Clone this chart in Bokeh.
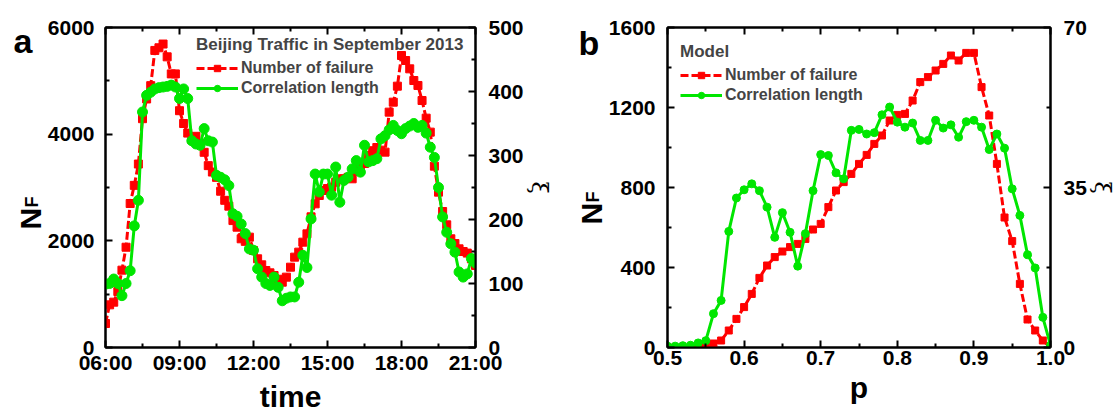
import math
from bokeh.plotting import figure
from bokeh.models import Range1d, LinearAxis, FixedTicker, Legend, LegendItem, Label
from bokeh.layouts import row
from bokeh.embed import file_html
from bokeh.resources import INLINE

FONT = "Liberation Sans"
RED = "#ff0000"
GREEN = "#00e600"

# ---------------- Panel a data (Beijing traffic) ----------------
TIMES = [
    "06:00", "06:10", "06:20", "06:30", "06:40", "06:50",
    "07:00", "07:10", "07:20", "07:30", "07:40", "07:50",
    "08:00", "08:10", "08:20", "08:30", "08:40", "08:50",
    "09:00", "09:10", "09:20", "09:30", "09:40", "09:50",
    "10:00", "10:10", "10:20", "10:30", "10:40", "10:50",
    "11:00", "11:10", "11:20", "11:30", "11:40", "11:50",
    "12:00", "12:10", "12:20", "12:30", "12:40", "12:50",
    "13:00", "13:10", "13:20", "13:30", "13:40", "13:50",
    "14:00", "14:10", "14:20", "14:30", "14:40", "14:50",
    "15:00", "15:10", "15:20", "15:30", "15:40", "15:50",
    "16:00", "16:10", "16:20", "16:30", "16:40", "16:50",
    "17:00", "17:10", "17:20", "17:30", "17:40", "17:50",
    "18:00", "18:10", "18:20", "18:30", "18:40", "18:50",
    "19:00", "19:10", "19:20", "19:30", "19:40", "19:50",
    "20:00", "20:10", "20:20", "20:30", "20:40", "20:50",
    "21:00",
]
NF_A = [
    450, 800, 850, 1050, 1450, 1880,
    2700, 3040, 3440, 4290, 4660, 4910,
    5570, 5620, 5690, 5450, 5130, 5130,
    4440, 4200, 4020, 3900, 3960, 3820,
    3660, 3410, 3290, 3190, 2930, 2760,
    2650, 2380, 2256, 2038, 1990, 2069,
    1819, 1663, 1550, 1444, 1400, 1350,
    1280, 1225, 1319, 1506, 1694, 1788,
    1975, 2131, 2450, 2694, 2850, 2944,
    2980, 3006, 3100, 3163, 3160, 3190,
    3163, 3300, 3381, 3450, 3600, 3690,
    3750, 3700, 3663, 4413, 4600, 4900,
    5475, 5381, 5225, 5006, 4913, 4631,
    4300, 4038, 3400, 2913, 2550, 2300,
    2038, 1950, 1850, 1800, 1770, 1663,
    1538,
]
XI_A = [
    99, 100, 107, 100, 81, 100,
    120, 190, 230, 368, 394, 399,
    404, 406, 407, 408, 410, 407,
    389, 404, 389, 323, 318, 316,
    342, 323, 321, 269, 266, 262,
    253, 209, 205, 193, 178, 154,
    152, 123, 110, 100, 97, 110,
    94, 73, 77, 79, 79, 102,
    144, 125, 201, 271, 243, 271,
    271, 238, 282, 227, 261, 266,
    279, 292, 274, 316, 290, 292,
    295, 326, 331, 340, 347, 339,
    334, 342, 346, 350, 344, 347,
    335, 313, 297, 250, 204, 180,
    162, 149, 118, 110, 115, 139,
    132,
]
TIME_TICKS = [6, 9, 12, 15, 18, 21]
TIME_TICK_LABELS = ["06:00", "09:00", "12:00", "15:00", "18:00", "21:00"]

# ---------------- Panel b data (model) ----------------
P_B = [
    0.50, 0.51, 0.52, 0.53, 0.54, 0.55, 0.56, 0.57, 0.58, 0.59,
    0.60, 0.61, 0.62, 0.63, 0.64, 0.65, 0.66, 0.67, 0.68, 0.69,
    0.70, 0.71, 0.72, 0.73, 0.74, 0.75, 0.76, 0.77, 0.78, 0.79,
    0.80, 0.81, 0.82, 0.83, 0.84, 0.85, 0.86, 0.87, 0.88, 0.89,
    0.90, 0.91, 0.92, 0.93, 0.94, 0.95, 0.96, 0.97, 0.98, 0.99,
    1.00,
]
NF_B = [
    0, 0, 0, 0, 2, 10, 20, 35, 85, 143,
    202, 268, 348, 410, 452, 480, 502, 518, 543, 590,
    618, 702, 785, 827, 868, 918, 963, 1018, 1060, 1135,
    1163, 1168, 1235, 1327, 1352, 1385, 1418, 1460, 1435, 1473,
    1473, 1302, 1160, 918, 650, 532, 318, 140, 85, 35,
    0,
]
XI_B = [
    0.3, 0.3, 0.4, 0.5, 1.0, 1.5, 7.4, 10.3, 25.4, 32.7,
    34.5, 35.8, 34.3, 30.7, 24.1, 29.5, 25.2, 17.8, 24.9, 34.3,
    42.2, 42.0, 38.2, 36.9, 47.5, 47.7, 46.7, 47.0, 50.9, 52.6,
    49.3, 48.2, 49.1, 45.3, 45.3, 49.7, 48.0, 48.7, 46.0, 49.4,
    49.7, 48.2, 43.3, 46.7, 43.6, 34.7, 28.9, 20.3, 17.4, 6.6,
    0.5,
]

H = 404      # canvas height requested for the text strips
H_EFF = 334  # measured height of the strips' text frame


def to_hours(s):
    h, m = s.split(":")
    return int(h) + int(m) / 60.0


def style_axis(ax, ticks, minor, overrides=None, labels=True, standoff=10):
    ax.ticker = FixedTicker(ticks=ticks, minor_ticks=minor)
    ax.axis_line_width = 2
    ax.axis_line_color = "black"
    ax.major_tick_line_width = 2
    ax.minor_tick_line_width = 2
    ax.major_tick_in = 7
    ax.major_tick_out = 0
    ax.minor_tick_in = 4
    ax.minor_tick_out = 0
    ax.major_label_text_font = FONT
    ax.major_label_text_font_style = "bold"
    ax.major_label_text_font_size = "21px" if labels else "0px"
    ax.major_label_text_color = "black"
    ax.major_label_standoff = standoff
    if overrides is not None:
        ax.major_label_overrides = overrides


def make_panel(xr, yr, xir, frame_w, left_b, right_b):
    p = figure(frame_width=frame_w, frame_height=320, x_range=xr, y_range=yr,
               output_backend="svg", toolbar_location=None,
               min_border_left=left_b, min_border_right=right_b,
               min_border_top=27, min_border_bottom=57)
    p.xgrid.visible = False
    p.ygrid.visible = False
    p.outline_line_color = "black"
    p.outline_line_width = 2
    p.background_fill_color = "white"
    p.border_fill_color = "white"
    p.extra_y_ranges = {"xi": xir}
    return p


def make_label_strip(w):
    # narrow text-only figure
    s = figure(width=w, height=H, x_range=Range1d(0, w), y_range=Range1d(0, H),
               output_backend="svg", toolbar_location=None,
               x_axis_location=None, y_axis_location=None,
               min_border=0, min_border_left=0, min_border_right=0,
               min_border_top=0, min_border_bottom=0)
    s.grid.visible = False
    s.outline_line_color = None
    s.background_fill_color = "white"
    s.border_fill_color = "white"
    return s


def strip_text(s, txt, x, page_y, size, angle=0.0):
    s.add_layout(Label(x=x, y=H_EFF - page_y, x_units="screen", y_units="screen", text=txt,
                       angle=angle, text_font=FONT, text_font_style="bold",
                       text_font_size=size, text_color="black", text_align="left",
                       text_baseline="alphabetic"))


def add_series(p, x, nf, xi, msq, mci):
    rl = p.line(x, nf, line_color=RED, line_width=3, line_dash="8 3")
    rs = p.scatter(x, nf, marker="square", size=msq, fill_color=RED, line_color=RED)
    gl = p.line(x, xi, line_color=GREEN, line_width=3, y_range_name="xi")
    gs = p.scatter(x, xi, marker="circle", size=mci, fill_color=GREEN, line_color=GREEN,
                   y_range_name="xi")
    return rl, rs, gl, gs


def add_legend(p, rends, title, loc, title_size):
    rl, rs, gl, gs = rends
    leg = Legend(items=[LegendItem(label="Number of failure", renderers=[rl, rs]),
                        LegendItem(label="Correlation length", renderers=[gl, gs])],
                 location=loc, title=title)
    leg.title_text_font = FONT
    leg.title_text_font_style = "bold"
    leg.title_text_font_size = title_size
    leg.title_standoff = 3
    leg.label_text_font = FONT
    leg.label_text_font_style = "bold"
    leg.label_text_font_size = "16px"
    leg.glyph_width = 42
    leg.glyph_height = 16
    leg.label_standoff = 3
    leg.label_height = 20
    leg.spacing = 0
    leg.padding = 2
    leg.margin = 0
    leg.border_line_alpha = 0
    leg.background_fill_alpha = 0
    p.add_layout(leg)


# ---------------- Label strip for panel a ----------------
la = make_label_strip(44)
strip_text(la, "a", 13, 38, "34px")
strip_text(la, "N", 30, 227, "30px", math.pi / 2)
strip_text(la, "F", 31, 205, "18px", math.pi / 2)

# ---------------- Panel a ----------------
hours = [to_hours(t) for t in TIMES]
pa = make_panel(Range1d(6, 21), Range1d(0, 6000), Range1d(0, 500), 370, 60, 82)
ra = add_series(pa, hours, NF_A, XI_A, 8, 10)
style_axis(pa.xaxis[0], TIME_TICKS, [7.5, 10.5, 13.5, 16.5, 19.5],
           overrides={t: l for t, l in zip(TIME_TICKS, TIME_TICK_LABELS)}, standoff=3)
pa.xaxis[0].axis_label = "time"
style_axis(pa.yaxis[0], [0, 2000, 4000, 6000], [1000, 3000, 5000], standoff=11)
top_a = LinearAxis()
style_axis(top_a, TIME_TICKS, [7.5, 10.5, 13.5, 16.5, 19.5], labels=False,
           overrides={t: "" for t in TIME_TICKS})
pa.add_layout(top_a, "above")
right_a = LinearAxis(y_range_name="xi")
style_axis(right_a, [0, 100, 200, 300, 400, 500], [50, 150, 250, 350, 450], standoff=13)
right_a.axis_label = "ξ"
pa.add_layout(right_a, "right")
add_legend(pa, ra, "Beijing Traffic in September 2013", (89, 247), "17px")

# ---------------- Label strip for panel b ----------------
lb = make_label_strip(48)
strip_text(lb, "b", 21, 40, "34px")
strip_text(lb, "N", 34, 222, "30px", math.pi / 2)
strip_text(lb, "F", 35, 200, "18px", math.pi / 2)

# ---------------- Panel b ----------------
pb = make_panel(Range1d(0.5, 1.0), Range1d(0, 1600), Range1d(0, 70), 383, 60, 65)
rb = add_series(pb, P_B, NF_B, XI_B, 7, 8)
P_TICKS = [0.5, 0.6, 0.7, 0.8, 0.9, 1.0]
P_MINOR = [0.55, 0.65, 0.75, 0.85, 0.95]
style_axis(pb.xaxis[0], P_TICKS, P_MINOR,
           overrides={0.5: "0.5", 0.6: "0.6", 0.7: "0.7", 0.8: "0.8", 0.9: "0.9", 1.0: "1.0"},
           standoff=3)
pb.xaxis[0].axis_label = "p"
style_axis(pb.yaxis[0], [0, 400, 800, 1200, 1600], [200, 600, 1000, 1400], standoff=12)
top_b = LinearAxis()
style_axis(top_b, P_TICKS, P_MINOR, labels=False, overrides={t: "" for t in P_TICKS})
pb.add_layout(top_b, "above")
right_b = LinearAxis(y_range_name="xi")
style_axis(right_b, [0, 35, 70], [17.5, 52.5], standoff=13)
right_b.axis_label = "ξ"
pb.add_layout(right_b, "right")
add_legend(pb, rb, "Model", (11, 240), "17px")

for p in (pa, pb):
    for ax in p.below:
        ax.axis_label_text_font = FONT
        ax.axis_label_text_font_style = "bold"
        ax.axis_label_text_font_size = "30px"
        ax.axis_label_text_color = "black"
        ax.axis_label_standoff = 3
    for ax in p.right:
        ax.axis_label_text_font = "DejaVu Serif"
        ax.axis_label_text_font_style = "normal"
        ax.axis_label_text_font_size = "22px"
        ax.axis_label_text_color = "black"
        ax.axis_label_standoff = 0

layout = row(la, pa, lb, pb)
open("out.html", "w").write(file_html(layout, INLINE))
